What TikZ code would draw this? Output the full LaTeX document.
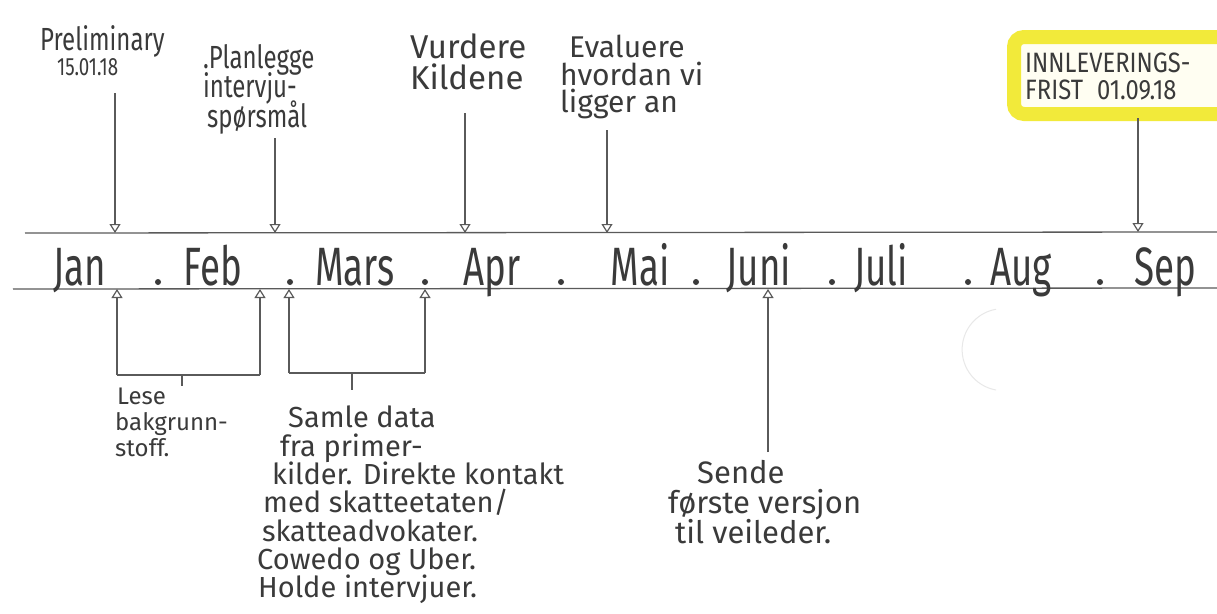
\documentclass[tikz,border=0pt]{standalone}
\usepackage{fontspec}
\setmainfont{Fira Sans}
\newfontfamily\narrowfont[FakeStretch=0.75]{Fira Sans}
\newfontfamily\capsfont[FakeStretch=0.85]{Fira Sans}
\newfontfamily\monthfont[FakeStretch=0.68]{Fira Sans}
\usetikzlibrary{arrows.meta}
\definecolor{ink}{HTML}{3A3A3A}
\definecolor{pen}{HTML}{5A5A5A}
\definecolor{hilite}{HTML}{F2EA3A}
\definecolor{paleyel}{HTML}{FFFEF2}
\tikzset{
  every node/.append style={execute at begin node={\lineskiplimit=-100pt\relax}},
  txt/.style={inner sep=0pt, anchor=north west, align=left, text=ink},
  month/.style={inner sep=0pt, anchor=base, text=ink, font=\monthfont\fontsize{54}{56}\selectfont},
  axis/.style={pen, line width=1.3pt},
  conn/.style={pen, line width=1.2pt},
  tipin/.style={conn, -{Triangle[open,length=9pt,width=11pt]}},
  monthdot/.style={circle, fill=ink, inner sep=0pt, minimum size=6pt},
}
\begin{document}
\begin{tikzpicture}[x=1pt,y=-1pt]
\useasboundingbox (0,0) rectangle (1217,613);
\fill[white] (0,0) rectangle (1217,613);

% timeline axis
\coordinate (topL) at (25,233);
\coordinate (topR) at (1217,232);
\coordinate (botL) at (13,289);
\coordinate (botR) at (1217,288);
\draw[axis] (topL) -- (topR);
\draw[axis] (botL) -- (botR);

% months
\node[month] (jan)  at (80,285)   {Jan};
\node[month] (feb)  at (213,285)  {Feb};
\node[month] (mars) at (355,285)  {Mars};
\node[month] (apr)  at (492,285)  {Apr};
\node[month] (mai)  at (640,285)  {Mai};
\node[month] (juni) at (759,285)  {Juni};
\node[month] (juli) at (881,285)  {Juli};
\node[month] (aug)  at (1021,285) {Aug};
\node[month] (sep)  at (1165,285) {Sep};

% separator dots
\foreach \i/\x in {1/158,2/290,3/425,4/561,5/696,6/832,7/968,8/1100}
  \node[monthdot] (d\i) at (\x,282) {};

% ---- top labels and arrows ----
\node[txt, font=\narrowfont\fontsize{32}{25}\selectfont] (prelim) at (40,25)
  {Preliminary\\\hspace*{17pt}{\fontsize{25}{25}\selectfont 15.01.18}};
\coordinate (prelimS) at (115,93);
\coordinate (prelimE) at (115,233);
\draw[tipin] (prelimS) -- (prelimE);

\node[txt, font=\narrowfont\fontsize{32}{29.5}\selectfont] (plan) at (203,44)
  {.Planlegge\\intervju-\\\hspace*{4pt}spørsmål};
\coordinate (planS) at (275,138);
\coordinate (planE) at (275,233);
\draw[tipin] (planS) -- (planE);

\node[txt, font=\fontsize{33}{31}\selectfont] (vurd) at (410,34)
  {Vurdere\\Kildene};
\coordinate (vurdS) at (465,113);
\coordinate (vurdE) at (465,233);
\draw[tipin] (vurdS) -- (vurdE);

\node[txt, font=\fontsize{30}{27.5}\selectfont] (eval) at (560,35)
  {\hspace*{9pt}Evaluere\\hvordan vi\\ligger an};
\coordinate (evalS) at (607,130);
\coordinate (evalE) at (607,233);
\draw[tipin] (evalS) -- (evalE);

% deadline box (highlighter)
\draw[hilite, line width=14pt, rounded corners=10pt, fill=paleyel]
  (1014,37) rectangle (1232,114);
\node[txt, font=\capsfont\fontsize{28}{26.5}\selectfont] (frist) at (1025,53)
  {INNLEVERINGS-\\FRIST\hspace{14pt}01.09.18};
\coordinate (fristS) at (1138,118);
\coordinate (fristE) at (1138,232);
\draw[tipin] (fristS) -- (fristE);

% ---- bottom brackets ----
\coordinate (b1a) at (117,375);
\coordinate (b1b) at (260,375);
\coordinate (b1aT) at (117,289);
\coordinate (b1bT) at (260,289);
\draw[tipin] (b1a) -- (b1aT);
\draw[tipin] (b1b) -- (b1bT);
\draw[conn] (b1a) -- (b1b);
\coordinate (b1m) at (182,375);
\coordinate (b1t) at (182,386);
\draw[conn] (b1m) -- (b1t);
\node[txt, font=\fontsize{24}{26}\selectfont] (lese) at (115,388)
  {\hspace*{2pt}Lese\\bakgrunn-\\stoff.};

\coordinate (b2a) at (289,373);
\coordinate (b2b) at (425,373);
\coordinate (b2aT) at (289,289);
\coordinate (b2bT) at (425,289);
\draw[tipin] (b2a) -- (b2aT);
\draw[tipin] (b2b) -- (b2bT);
\draw[conn] (b2a) -- (b2b);
\coordinate (b2m) at (352,373);
\coordinate (b2t) at (352,390);
\draw[conn] (b2m) -- (b2t);
\node[txt, font=\fontsize{29}{28.3}\selectfont] (samle) at (257,406)
  {\hspace*{31pt}Samle data\\
   \hspace*{23pt}fra primer-\\
   \hspace*{15pt}kilder. Direkte kontakt\\
   \hspace*{6pt}med skatteetaten/\\
   \hspace*{5pt}skatteadvokater.\\
   Cowedo og Uber.\\
   \hspace*{1pt}Holde intervjuer.};

% Juni arrow
\coordinate (sendS) at (768,452);
\coordinate (sendE) at (768,289);
\draw[tipin] (sendS) -- (sendE);
\node[txt, font=\fontsize{31}{30}\selectfont] (sende) at (668,460)
  {\hspace*{29pt}Sende\\første versjon\\\hspace*{7pt}til veileder.};

% faint paper mark
\draw[gray!18, line width=1pt] (996,390) arc[start angle=100, end angle=260, radius=41];
\end{tikzpicture}
\end{document}
